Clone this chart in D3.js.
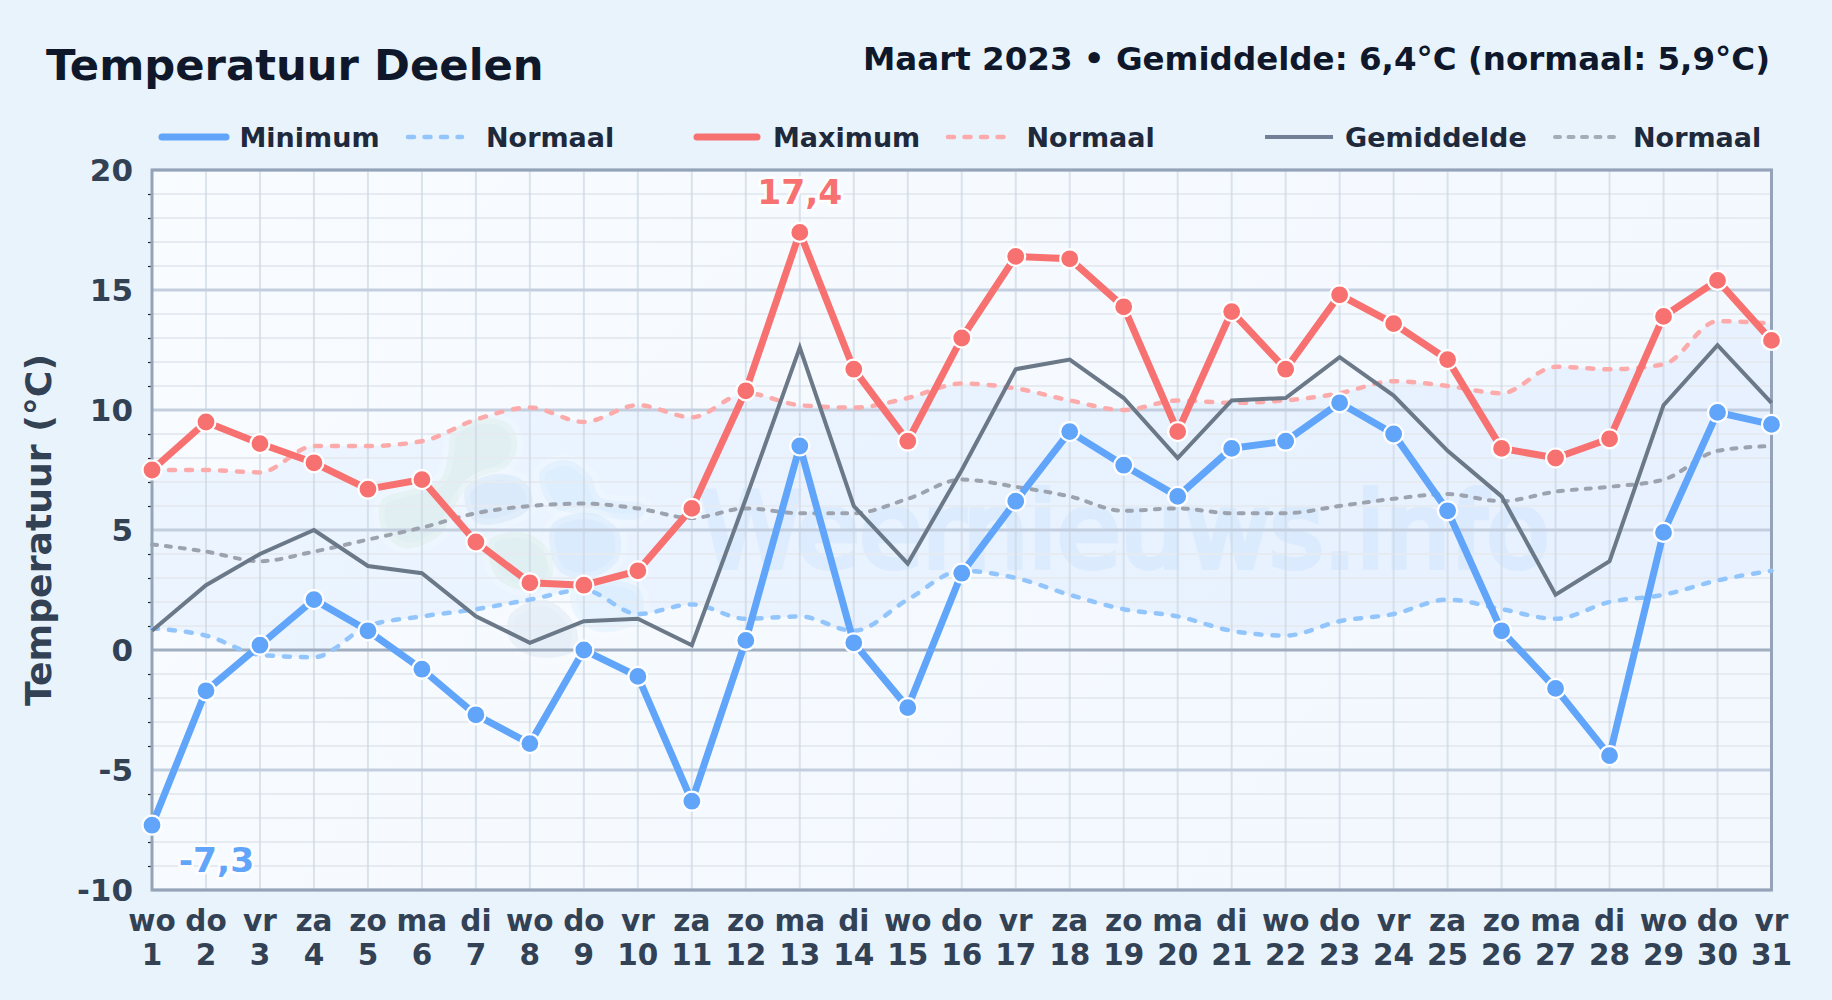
<!DOCTYPE html>
<html><head><meta charset="utf-8">
<script src="https://cdn.jsdelivr.net/npm/d3@7"></script>
<style>
html,body{margin:0;padding:0;background:#e8f3fc;overflow:hidden}
svg{display:block}
text{font-family:"DejaVu Sans",sans-serif;font-weight:700}
</style></head><body>
<svg id="c" width="1832" height="1000"></svg>
<script>
const title="Temperatuur Deelen";
const subtitle="Maart 2023 • Gemiddelde: 6,4°C (normaal: 5,9°C)";
const yTitle="Temperatuur (°C)";
const watermark="Weernieuws.info";
const days=d3.range(1,32);
const weekdays=["wo","do","vr","za","zo","ma","di","wo","do","vr","za","zo","ma","di","wo","do","vr","za","zo","ma","di","wo","do","vr","za","zo","ma","di","wo","do","vr"];
const minT=[-7.3,-1.7,0.2,2.1,0.8,-0.8,-2.7,-3.9,0.0,-1.1,-6.3,0.4,8.5,0.3,-2.4,3.2,6.2,9.1,7.7,6.4,8.4,8.7,10.3,9.0,5.8,0.8,-1.6,-4.4,4.9,9.9,9.4];
const maxT=[7.5,9.5,8.6,7.8,6.7,7.1,4.5,2.8,2.7,3.3,5.9,10.8,17.4,11.7,8.7,13.0,16.4,16.3,14.3,9.1,14.1,11.7,14.8,13.6,12.1,8.4,8.0,8.8,13.9,15.4,12.9];
const meanT=[0.8,2.7,4.0,5.0,3.5,3.2,1.4,0.3,1.2,1.3,0.2,6.3,12.6,6.0,3.6,7.5,11.7,12.1,10.5,8.0,10.4,10.5,12.2,10.6,8.3,6.4,2.3,3.7,10.2,12.7,10.3];
const normMin=[0.9,0.6,-0.2,-0.3,1.0,1.4,1.7,2.1,2.5,1.5,1.9,1.3,1.4,0.8,2.1,3.3,3.0,2.3,1.7,1.4,0.8,0.6,1.2,1.5,2.1,1.7,1.3,2.0,2.3,2.9,3.3];
const normMax=[7.5,7.5,7.4,8.5,8.5,8.7,9.6,10.1,9.5,10.2,9.7,10.7,10.2,10.1,10.5,11.1,10.9,10.4,10.0,10.4,10.3,10.4,10.7,11.2,11.0,10.7,11.8,11.7,11.9,13.7,13.6];
const normMean=[4.4,4.1,3.7,4.1,4.6,5.1,5.7,6.0,6.1,5.9,5.5,5.9,5.7,5.7,6.3,7.1,6.8,6.4,5.8,5.9,5.7,5.7,6.0,6.3,6.5,6.2,6.6,6.8,7.1,8.3,8.5];
const yMajor=[-10,-5,0,5,10,15,20];
const yMinor=d3.range(-10,21).filter(v=>v%5!==0);

const L=152,R=1771.5,T=170,B=890;
const x=d3.scaleLinear().domain([1,31]).range([L,R]);
const y=d3.scaleLinear().domain([-10,20]).range([B,T]);
const svg=d3.select("#c");
svg.append("rect").attr("width",1832).attr("height",1000).attr("fill","#e8f3fc");
const defs=svg.append("defs");
const g=defs.append("linearGradient").attr("id","pg").attr("x1",0).attr("y1",0).attr("x2",1).attr("y2",0.3);
g.append("stop").attr("offset","0%").attr("stop-color","#f8fcff");
g.append("stop").attr("offset","100%").attr("stop-color","#f3f8ff");
svg.append("rect").attr("x",L).attr("y",T).attr("width",R-L).attr("height",B-T).attr("fill","url(#pg)");

// band between the normals
const idx=d3.range(days.length);
svg.append("path").datum(idx)
 .attr("d",d3.area().x(i=>x(days[i])).y0(i=>y(normMin[i])).y1(i=>y(normMax[i])).curve(d3.curveMonotoneX))
 .attr("fill","#60a5fa").attr("fill-opacity",0.08);

// watermark
const blobs=[
 {c:"#bfe3c8",p:[[452,432],[480,418],[510,425],[517,448],[505,468],[478,478],[458,500],[440,535],[405,548],[382,530],[382,500],[410,490],[440,480],[448,455]]},
 {c:"#bfe3c8",p:[[490,540],[525,533],[552,555],[548,585],[520,590],[495,575]]},
 {c:"#a9cdee",p:[[465,490],[495,474],[525,482],[532,505],[505,522],[475,522]]},
 {c:"#b5dcfb",p:[[540,472],[565,460],[590,475],[600,497],[645,505],[640,518],[590,515],[550,505]]},
 {c:"#a9d2f5",p:[[552,525],[590,513],[618,530],[618,560],[590,578],[558,570]]},
 {c:"#b5c9e0",p:[[510,615],[545,600],[575,625],[575,650],[535,657],[510,640]]},
 {c:"#b5dcfb",p:[[572,590],[610,580],[640,590],[640,620],[600,632],[575,615]]}
];
const bl=d3.line().curve(d3.curveCatmullRomClosed.alpha(0.5));
const wm=svg.append("g");
blobs.forEach(b=>wm.append("path").attr("d",bl(b.p)).attr("fill",b.c).attr("fill-opacity",0.24)
  .attr("stroke","#fff").attr("stroke-opacity",0.18).attr("stroke-width",12));
wm.append("text").attr("x",700).attr("y",567).attr("font-size",103).style("font-weight",400)
  .attr("fill","#93c5fd").attr("stroke","#93c5fd").attr("stroke-width",6).attr("opacity",0.14).text(watermark);

// grid
const grid=svg.append("g");
grid.selectAll("line.mi").data(yMinor).join("line").attr("x1",L).attr("x2",R).attr("y1",d=>y(d)).attr("y2",d=>y(d)).attr("stroke","#e6ebf2").attr("stroke-width",2);
grid.selectAll("line.v").data(days).join("line").attr("y1",T).attr("y2",B).attr("x1",d=>x(d)).attr("x2",d=>x(d)).attr("stroke","#cbd5e1").attr("stroke-opacity",0.65).attr("stroke-width",2);
grid.selectAll("line.ma").data(yMajor).join("line").attr("x1",L).attr("x2",R).attr("y1",d=>y(d)).attr("y2",d=>y(d))
  .attr("stroke",d=>d===0?"#a0aec0":"#c3cfdf").attr("stroke-width",3);

// axes
const ax=svg.append("g").attr("transform",`translate(${L},0)`).call(d3.axisLeft(y).tickValues(yMinor).tickSize(4).tickFormat(""));
ax.select(".domain").remove();
ax.selectAll("line").attr("stroke","#222").attr("stroke-width",1.2);
const ay=svg.append("g").attr("transform",`translate(${L},1)`).call(d3.axisLeft(y).tickValues(yMajor).tickSize(0).tickPadding(19).tickFormat(d=>String(d)));
ay.select(".domain").remove();
ay.selectAll("text").attr("font-size",31).attr("fill","#334155").attr("font-family","DejaVu Sans").attr("font-weight",700);
const axb=svg.append("g").attr("transform",`translate(-0.5,${B})`).call(d3.axisBottom(x).tickValues(days).tickSize(0).tickFormat(""));
axb.select(".domain").remove();
axb.selectAll(".tick text").each(function(d,i){
  const t=d3.select(this).attr("y",0).attr("dy",null).attr("font-size",29.5).attr("fill","#334155").attr("font-family","DejaVu Sans").attr("font-weight",700).text(null);
  t.append("tspan").attr("x",0).attr("y",40.5).text(weekdays[i]);
  t.append("tspan").attr("x",0).attr("y",75).text(days[i]);
});
svg.append("rect").attr("x",L).attr("y",T).attr("width",R-L).attr("height",B-T).attr("fill","none").attr("stroke","#94a3b8").attr("stroke-width",3);

// series
const ln=(vals,curve)=>d3.line().x(i=>x(days[i])).y(i=>y(vals[i])).curve(curve)(idx);
const lines=svg.append("g").attr("fill","none");
lines.append("path").attr("d",ln(normMean,d3.curveMonotoneX)).attr("stroke","#9ca3af").attr("stroke-width",4).attr("stroke-linecap","round").attr("stroke-dasharray","5 9");
lines.append("path").attr("d",ln(normMin,d3.curveMonotoneX)).attr("stroke","#93c5fd").attr("stroke-width",4.5).attr("stroke-linecap","round").attr("stroke-dasharray","6 11");
lines.append("path").attr("d",ln(normMax,d3.curveMonotoneX)).attr("stroke","#fcaaaa").attr("stroke-width",4.5).attr("stroke-linecap","round").attr("stroke-dasharray","6 11");
lines.append("path").attr("d",ln(meanT,d3.curveLinear)).attr("stroke","#6b7888").attr("stroke-width",4);
[[minT,"#60a5fa"],[maxT,"#f87171"]].forEach(([v,c])=>{
  lines.append("path").attr("d",ln(v,d3.curveLinear)).attr("stroke",c).attr("stroke-width",7);
});
[[minT,"#60a5fa"],[maxT,"#f87171"]].forEach(([v,c])=>{
  svg.append("g").selectAll("circle").data(idx).join("circle")
    .attr("cx",i=>x(days[i])).attr("cy",i=>y(v[i])).attr("r",9.5).attr("fill",c).attr("stroke","#fff").attr("stroke-width",2.2);
});

// value labels
const fmt=v=>String(v).replace(".",",");
const iMax=maxT.indexOf(d3.max(maxT)), iMin=minT.indexOf(d3.min(minT));
svg.append("text").attr("x",x(days[iMax])).attr("y",y(maxT[iMax])-28).attr("text-anchor","middle").attr("font-size",34.5)
  .attr("fill","#f87171").attr("stroke","#fff").attr("stroke-width",5).attr("stroke-opacity",0.85).attr("paint-order","stroke").text(fmt(maxT[iMax]));
svg.append("text").attr("x",x(days[iMin])+64.5).attr("y",y(minT[iMin])+47).attr("text-anchor","middle").attr("font-size",34.5)
  .attr("fill","#60a5fa").attr("stroke","#fff").attr("stroke-width",5).attr("stroke-opacity",0.85).attr("paint-order","stroke").text(fmt(minT[iMin]));

// titles
svg.append("text").attr("x",46).attr("y",79.5).attr("font-size",43.3).attr("fill","#0f172a").text(title);
svg.append("text").attr("x",1770).attr("y",70).attr("text-anchor","end").attr("font-size",32.5).attr("fill","#0f172a").text(subtitle);
svg.append("text").attr("transform","translate(51,530) rotate(-90)").attr("text-anchor","middle").attr("font-size",36.2).attr("fill","#334155").text(yTitle);

// legend
const legendNames=["Minimum","Normaal","Maximum","Normaal","Gemiddelde","Normaal"];
const legendColors=["#60a5fa","#93c5fd","#f87171","#fcaaaa","#718096","#a3adb9"];
const legendWidths=[7,4.5,7,4.5,4,4];
const legendDash=[null,"6 10.5",null,"6 10.5",null,"5 8.5"];
const legendCaps=["round","round","round","round","butt","round"];
const legendX1=[162,408,697,948,1265,1555];
const legendX2=[226,462,757,1004,1333,1617];
const legendTx=[239.5,486,773,1026.5,1345,1633];
const lg=svg.append("g");
legendNames.forEach((n,i)=>{
  lg.append("line").attr("x1",legendX1[i]).attr("x2",legendX2[i]).attr("y1",137).attr("y2",137).attr("stroke",legendColors[i]).attr("stroke-width",legendWidths[i]).attr("stroke-linecap",legendCaps[i]).attr("stroke-dasharray",legendDash[i]);
  lg.append("text").attr("x",legendTx[i]).attr("y",147).attr("font-size",27).attr("fill","#1e293b").text(n);
});
</script>
</body></html>
